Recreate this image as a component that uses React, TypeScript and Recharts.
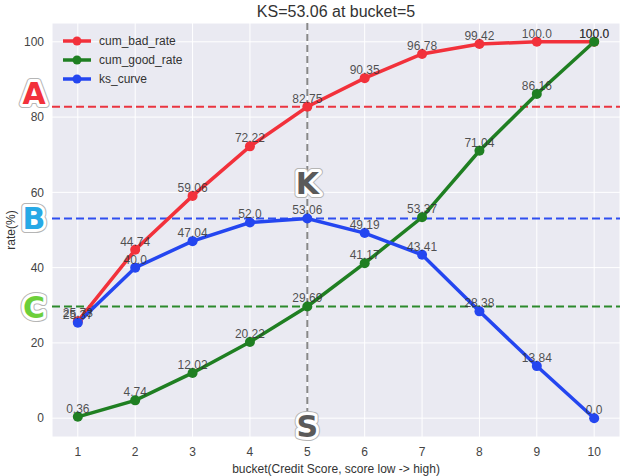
import React from 'react';
import {
  LineChart,
  Line,
  XAxis,
  YAxis,
  CartesianGrid,
  ReferenceLine,
  ReferenceDot,
  LabelList,
  Label,
} from 'recharts';

const buckets = [1, 2, 3, 4, 5, 6, 7, 8, 9, 10];
const cumBadRate = [25.73, 44.74, 59.06, 72.22, 82.75, 90.35, 96.78, 99.42, 100.0, 100.0];
const cumGoodRate = [0.36, 4.74, 12.02, 20.22, 29.69, 41.17, 53.37, 71.04, 86.16, 100.0];
const ksCurve = [25.37, 40.0, 47.04, 52.0, 53.06, 49.19, 43.41, 28.38, 13.84, 0.0];
const yTicks = [0, 20, 40, 60, 80, 100];

const ksBucket = 5;
const ksValue = 53.06;

const RED = '#f2313b';
const GREEN = '#1f7f22';
const BLUE = '#2446f0';

const data = buckets.map((b, i) => ({
  bucket: b,
  cum_bad_rate: cumBadRate[i],
  cum_good_rate: cumGoodRate[i],
  ks_curve: ksCurve[i],
}));

const FONT = '"Liberation Sans", Arial, sans-serif';

const ValueLabel = (props: any) => {
  const { x, y, value } = props;
  return (
    <text
      x={x}
      y={y - 4}
      textAnchor="middle"
      fontSize={12}
      fontFamily={FONT}
      fill="#333"
      fillOpacity={0.85}
    >
      {String(Number.isInteger(value) ? value.toFixed(1) : value)}
    </text>
  );
};

const Letter = ({ x, y, ch, fill }: any) => {
  const common = {
    x,
    y,
    textAnchor: 'middle' as const,
    dominantBaseline: 'central' as const,
    fontSize: 30,
    fontWeight: 700,
    fontFamily: '"DejaVu Sans", sans-serif',
    strokeLinejoin: 'round' as const,
  };
  return (
    <g>
      <text {...common} fill="#aaa" stroke="#b5b5b5" strokeWidth={8}>{ch}</text>
      <text {...common} fill="#fff" stroke="#fff" strokeWidth={6}>{ch}</text>
      <text {...common} fill={fill}>{ch}</text>
    </g>
  );
};

const sideLetter = (ch: string, fill: string, dy: number) => (props: any) => {
  const vb = props.viewBox || {};
  return <Letter x={vb.x - 18} y={vb.y + dy} ch={ch} fill={fill} />;
};

const LegendBox = () => {
  const items = [
    { name: 'cum_bad_rate', color: RED },
    { name: 'cum_good_rate', color: GREEN },
    { name: 'ks_curve', color: BLUE },
  ];
  return (
    <svg width={140} height={62} style={{ position: 'absolute', left: 60, top: 32, zIndex: 2 }}>
      {items.map((it, i) => (
        <g key={it.name}>
          <line x1={3} x2={31} y1={9 + i * 19} y2={9 + i * 19} stroke={it.color} strokeWidth={3.5} />
          <circle cx={17} cy={9 + i * 19} r={4.5} fill={it.color} />
          <text x={39} y={13 + i * 19} fontSize={12} fontFamily={FONT} fill="#333">
            {it.name}
          </text>
        </g>
      ))}
    </svg>
  );
};

export default function App() {
  return (
    <div style={{ position: 'absolute', left: 0, top: 0, width: 635, height: 476, background: '#fff' }}>
      <div
        style={{
          position: 'absolute',
          left: 52,
          top: 1,
          width: 568,
          textAlign: 'center',
          fontFamily: FONT,
          fontSize: 16,
          lineHeight: '22px',
          color: '#333',
          zIndex: 2,
        }}
      >
        KS={ksValue} at bucket={ksBucket}
      </div>
      <LineChart width={635} height={476} data={data} margin={{ top: 23, right: 15, left: 0, bottom: 0 }}>
        <CartesianGrid stroke="#ffffff" strokeWidth={1} fill="#eaeaf2" />
        <XAxis
          dataKey="bucket"
          type="number"
          domain={[0.55, 10.45]}
          ticks={buckets}
          axisLine={false}
          tickLine={false}
          tickSize={0}
          tickMargin={10}
          height={39}
          tick={{ fill: '#444', fontSize: 12, fontFamily: FONT }}
        >
          <Label
            value="bucket(Credit Score, score low -> high)"
            position="insideBottom"
            offset={3}
            style={{ fill: '#333', fontSize: 12, fontFamily: FONT }}
          />
        </XAxis>
        <YAxis
          type="number"
          domain={[-5, 105]}
          ticks={yTicks}
          axisLine={false}
          tickLine={false}
          tickSize={0}
          tickMargin={8}
          width={52}
          tick={{ fill: '#444', fontSize: 12, fontFamily: FONT }}
        >
          <Label
            value="rate(%)"
            angle={-90}
            position="insideLeft"
            offset={11}
            style={{ fill: '#333', fontSize: 12, fontFamily: FONT, textAnchor: 'middle' }}
          />
        </YAxis>
        <ReferenceLine
          y={cumBadRate[ksBucket - 1]}
          stroke="#ea3540"
          strokeWidth={2}
          strokeDasharray="8 4"
          label={sideLetter('A', '#f2313b', -13)}
        />
        <ReferenceLine
          y={ksValue}
          stroke="#2f4ff0"
          strokeWidth={2}
          strokeDasharray="8 4"
          label={sideLetter('B', '#27a9e6', 0)}
        />
        <ReferenceLine
          y={cumGoodRate[ksBucket - 1]}
          stroke="#2c8a2c"
          strokeWidth={2}
          strokeDasharray="8 4"
          label={sideLetter('C', '#6ccf3a', 1)}
        />
        <ReferenceLine x={ksBucket} stroke="#888" strokeWidth={2} strokeDasharray="7 4" />
        <Line
          dataKey="cum_bad_rate"
          stroke={RED}
          strokeWidth={3.5}
          dot={{ r: 5, fill: RED, stroke: 'none' }}
          isAnimationActive={false}
        >
          <LabelList dataKey="cum_bad_rate" content={<ValueLabel />} />
        </Line>
        <Line
          dataKey="cum_good_rate"
          stroke={GREEN}
          strokeWidth={3.5}
          dot={{ r: 5, fill: GREEN, stroke: 'none' }}
          isAnimationActive={false}
        >
          <LabelList dataKey="cum_good_rate" content={<ValueLabel />} />
        </Line>
        <Line
          dataKey="ks_curve"
          stroke={BLUE}
          strokeWidth={3.5}
          dot={{ r: 5, fill: BLUE, stroke: 'none' }}
          isAnimationActive={false}
        >
          <LabelList dataKey="ks_curve" content={<ValueLabel />} />
        </Line>
        <ReferenceDot
          x={ksBucket}
          y={62.3}
          r={0}
          shape={(p: any) => <Letter x={p.cx} y={p.cy} ch="K" fill="#5a5a5a" />}
        />
        <ReferenceDot
          x={ksBucket}
          y={-2.3}
          r={0}
          shape={(p: any) => <Letter x={p.cx} y={p.cy} ch="S" fill="#5a5a5a" />}
        />
      </LineChart>
      <LegendBox />
    </div>
  );
}
